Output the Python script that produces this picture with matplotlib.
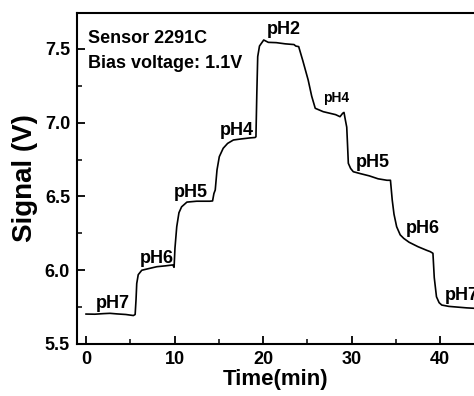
import matplotlib
matplotlib.use('Agg')
import matplotlib.pyplot as plt
from matplotlib.ticker import MultipleLocator

plt.rcParams['font.family'] = ['Liberation Sans', 'DejaVu Sans']
plt.rcParams['font.weight'] = 'bold'

# Signal trace (time in min, signal in V)
time_min = [0.0, 1.0, 2.0, 2.7, 3.5, 4.5, 5.35, 5.55, 5.65, 5.73, 5.9, 6.3, 7.0, 8.0, 9.0, 9.8,
            9.95, 10.05, 10.25, 10.5, 10.8, 11.4, 12.5, 14.0, 14.3, 14.45, 14.6, 14.8, 15.06, 15.5,
            16.0, 16.65, 17.5, 18.5, 19.1, 19.2, 19.3, 19.4, 19.6, 20.08, 20.6, 21.5, 22.5, 23.5,
            23.7, 24.03, 24.5, 25.1, 25.5, 25.9, 26.8, 27.5, 28.2, 28.7, 29.0, 29.15, 29.3, 29.46,
            29.55, 29.64, 29.9, 30.2, 31.0, 32.0, 33.0, 34.0, 34.4, 34.6, 34.8, 35.1, 35.5, 35.9,
            36.5, 37.5, 38.5, 38.9, 39.2, 39.35, 39.6, 39.9, 40.2, 41.0, 42.0, 43.0, 43.9]
signal_v = [5.703, 5.702, 5.706, 5.708, 5.704, 5.700, 5.693, 5.700, 5.80, 5.91, 5.97, 6.00, 6.01,
            6.024, 6.03, 6.036, 6.02, 6.15, 6.295, 6.39, 6.43, 6.462, 6.468, 6.468, 6.47, 6.52,
            6.544, 6.68, 6.77, 6.827, 6.86, 6.883, 6.89, 6.897, 6.900, 6.905, 7.20, 7.448, 7.52,
            7.561, 7.545, 7.543, 7.535, 7.53, 7.52, 7.516, 7.42, 7.29, 7.18, 7.098, 7.075, 7.065,
            7.055, 7.041, 7.064, 7.07, 7.02, 6.97, 6.85, 6.725, 6.69, 6.668, 6.655, 6.64, 6.62,
            6.61, 6.61, 6.476, 6.38, 6.295, 6.24, 6.216, 6.19, 6.16, 6.135, 6.126, 6.115, 5.95,
            5.82, 5.78, 5.764, 5.755, 5.75, 5.745, 5.742]

# pH labels: text, x, baseline y, size
ph_text = ['pH7', 'pH6', 'pH5', 'pH4', 'pH2', 'pH4', 'pH5', 'pH6', 'pH7']
ph_x = [2.99, 7.95, 11.8, 17.0, 22.4, 28.3, 32.46, 38.0, 42.5]
ph_y = [5.742, 6.047, 6.499, 6.917, 7.60, 7.143, 6.702, 6.25, 5.798]
ph_size = [13, 13, 13, 13, 13, 10, 13, 13, 13]

fig = plt.figure(figsize=(4.74, 3.96), dpi=100)
ax = fig.add_axes([77 / 474, 52 / 396, 1 - 77 / 474, 331 / 396])

ax.plot(time_min, signal_v, color='black', linewidth=1.2)

for t, x, y, s in zip(ph_text, ph_x, ph_y, ph_size):
    ax.text(x, y, t, ha='center', va='baseline', fontsize=s, fontweight='bold')

ax.text(0.26, 7.539, 'Sensor 2291C', fontsize=13, fontweight='bold', va='baseline')
ax.text(0.26, 7.369, 'Bias voltage: 1.1V', fontsize=13, fontweight='bold', va='baseline')

ax.set_xlim(-1.02, 43.84)
ax.set_ylim(5.5, 7.744)
ax.xaxis.set_major_locator(MultipleLocator(10))
ax.xaxis.set_minor_locator(MultipleLocator(5))
ax.yaxis.set_major_locator(MultipleLocator(0.5))
ax.yaxis.set_minor_locator(MultipleLocator(0.25))
ax.tick_params(which='major', direction='in', length=6, width=1.3, labelsize=13, pad=5)
ax.tick_params(which='minor', direction='in', length=3.5, width=1.1)
ax.tick_params(axis='y', which='both', right=False)
ax.tick_params(axis='x', which='both', top=False)
for lab in ax.get_xticklabels() + ax.get_yticklabels():
    lab.set_fontweight('bold')

for side in ['left', 'bottom', 'top']:
    ax.spines[side].set_linewidth(1.5)
ax.spines['right'].set_visible(False)

ax.set_xlabel('Time(min)', fontsize=16, fontweight='bold', labelpad=1)
ax.set_ylabel('Signal (V)', fontsize=20, fontweight='bold', labelpad=5)

fig.savefig('out.png', dpi=100)
